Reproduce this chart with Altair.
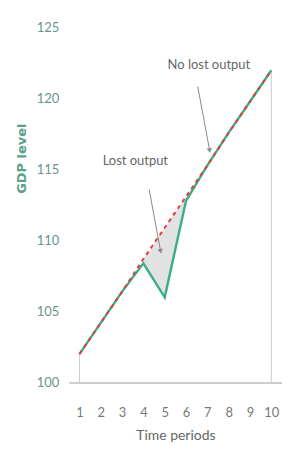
import altair as alt
import pandas as pd

periods = [1, 2, 3, 4, 5, 6, 7, 8, 9, 10]
trend = [102.0, 104.2, 106.4, 108.7, 110.9, 113.1, 115.3, 117.6, 119.8, 122.0]
actual = [102.0, 104.2, 106.4, 108.4, 106.0, 112.8, 115.3, 117.6, 119.8, 122.0]

lost_periods = [4, 5, 6]

y_ticks = [100, 105, 110, 115, 120, 125]

ann_text = ["No lost output", "Lost output"]
ann_x = [7.07, 3.62]
ann_y = [122.4, 115.6]
arrow_x = [6.55, 4.27]
arrow_y = [120.85, 113.6]
arrow_x2 = [7.1, 4.8]
arrow_y2 = [116.4, 109.3]

FONT = "Liberation Sans Narrow, Lato, sans-serif"

df = pd.DataFrame({"period": periods, "trend": trend, "actual": actual})
lost = df[df["period"].isin(lost_periods)]
edges = df[df["period"].isin([periods[0], periods[-1]])].assign(base=100)
ann = pd.DataFrame({"text": ann_text, "x": ann_x, "y": ann_y})
arr = pd.DataFrame({"x": arrow_x, "y": arrow_y, "x2": arrow_x2, "y2": arrow_y2})

xs = alt.Scale(domain=[0.5, 10.5], nice=False)
ys = alt.Scale(domain=[100, 125], nice=False)

x_axis = alt.Axis(values=periods, title="Time periods", grid=False, ticks=False,
                  domainColor="#cccccc", domainWidth=2, labelPadding=24,
                  labelOverlap=False, labelFlush=False,
                  labelFont=FONT, labelFontSize=13, labelColor="#777777",
                  titleFont=FONT, titleFontSize=14, titleColor="#666666",
                  titleFontWeight="normal", titlePadding=9)
y_axis = alt.Axis(values=y_ticks, title="GDP level", grid=False, ticks=False,
                  domain=False, labelPadding=10, labelOverlap=False,
                  labelFont=FONT, labelFontSize=13, labelColor="#6a948b",
                  titleFont="DejaVu Sans", titleFontSize=13, titleFontWeight="bold",
                  titleColor="#5aa08c", titleAngle=270, titleX=-47, titleY=131,
                  titleAlign="center", titleBaseline="middle")

X = alt.X("period:Q", scale=xs, axis=x_axis)

area = alt.Chart(lost).mark_area(color="#e2e2e2", opacity=1).encode(
    x=X,
    y=alt.Y("trend:Q", scale=ys, axis=y_axis),
    y2="actual:Q",
)

rules = alt.Chart(edges).mark_rule(color="#cccccc", strokeWidth=1).encode(
    x=X,
    y=alt.Y("base:Q", scale=ys, axis=y_axis),
    y2="trend:Q",
)

line_actual = alt.Chart(df).mark_line(color="#3aae88", strokeWidth=2.4).encode(
    x=X,
    y=alt.Y("actual:Q", scale=ys, axis=y_axis),
)

line_trend = alt.Chart(df).mark_line(color="#e0403a", strokeWidth=2, strokeDash=[4, 4]).encode(
    x=X,
    y=alt.Y("trend:Q", scale=ys, axis=y_axis),
)

arrows = alt.Chart(arr).mark_rule(color="#8a8a8a", strokeWidth=1).encode(
    x=alt.X("x:Q", scale=xs, axis=x_axis), y=alt.Y("y:Q", scale=ys, axis=y_axis),
    x2="x2:Q", y2="y2:Q",
)

heads = alt.Chart(arr).mark_point(shape="triangle", filled=True, color="#8a8a8a",
                                  size=30, angle=170, opacity=1).encode(
    x=alt.X("x2:Q", scale=xs, axis=x_axis), y=alt.Y("y2:Q", scale=ys, axis=y_axis),
)

texts = alt.Chart(ann).mark_text(font=FONT, fontSize=13, color="#666666",
                                 align="center", baseline="middle").encode(
    x=alt.X("x:Q", scale=xs, axis=x_axis), y=alt.Y("y:Q", scale=ys, axis=y_axis),
    text="text:N",
)

chart = alt.layer(area, rules, line_actual, line_trend, arrows, heads, texts).properties(
    width=214,
    height=356,
    autosize=alt.AutoSizeParams(type="none"),
    padding={"left": 61, "top": 19, "right": 0, "bottom": 60},
).configure_view(stroke=None).configure_axis(labelOverlap=False)

chart.save("out.html", embed_options={"renderer": "svg", "actions": False})
